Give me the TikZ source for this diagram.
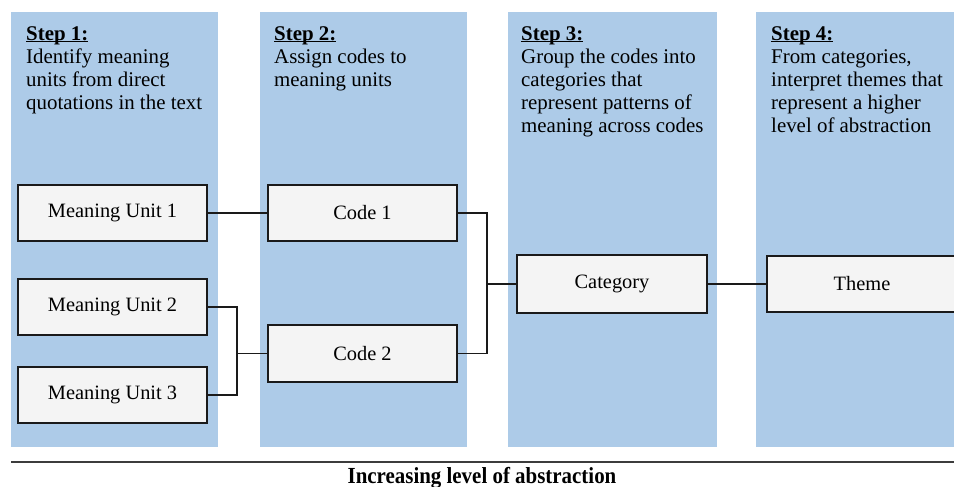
\documentclass[tikz,border=0pt]{standalone}
\usepackage{fontspec}
\setmainfont{Liberation Serif}
\usepackage{graphicx}
\definecolor{colblue}{RGB}{173,203,232}
\definecolor{boxfill}{RGB}{244,244,244}
\definecolor{boxline}{RGB}{26,26,26}
\newcommand{\stephead}[1]{\underline{\smash{\textbf{#1}}}}
\begin{document}
\begin{tikzpicture}[x=1pt,y=-1pt,
  unitbox/.style={draw=boxline, fill=boxfill, line width=1.6pt, minimum width=189pt, minimum height=56pt, inner sep=0pt, font=\fontsize{20.4}{23}\selectfont},
  conn/.style={draw=boxline, line width=1.2pt},
  steptext/.style={anchor=north west, align=left, inner sep=0pt, font=\fontsize{20.9}{23}\selectfont}]
\useasboundingbox (0,0) rectangle (954,487);
% columns
\fill[colblue] (11,12) rectangle (218,447);
\fill[colblue] (260,12) rectangle (467,447);
\fill[colblue] (508,12) rectangle (717,447);
\fill[colblue] (756,12) rectangle (960,447);
% step texts
\node[steptext] (s1) at (26,40) {\stephead{Step 1:}\\Identify meaning\\units from direct\\quotations in the text};
\node[steptext] (s2) at (274,40) {\stephead{Step 2:}\\Assign codes to\\meaning units};
\node[steptext] (s3) at (521,40) {\stephead{Step 3:}\\Group the codes into\\categories that\\represent patterns of\\meaning across codes};
\node[steptext] (s4) at (771,40) {\stephead{Step 4:}\\From categories,\\interpret themes that\\represent a higher\\level of abstraction};
% boxes
\node[unitbox] (mu1) at (112.5,213) {Meaning Unit 1};
\node[unitbox] (mu2) at (112.5,307) {Meaning Unit 2};
\node[unitbox] (mu3) at (112.5,395) {Meaning Unit 3};
\node[unitbox] (c1) at (362.5,213) {Code 1};
\node[unitbox, minimum height=57pt] (c2) at (362.5,353.5) {Code 2};
\node[unitbox, minimum width=190pt, minimum height=58pt] (cat) at (612,284) {Category};
\node[unitbox, minimum height=56pt, minimum width=190pt] (th) at (862,284) {Theme};
% connectors
\coordinate (j1) at (237,353.5);
\coordinate (j2) at (487,284);
\draw[conn] (mu1.east) -- (c1.west);
\draw[conn] (mu2.east) -| (j1) |- (mu3.east);
\draw[conn] (j1) -- (c2.west);
\draw[conn] (c1.east) -| (j2) |- (c2.east);
\draw[conn] (j2) -- (cat.west);
\draw[conn] (cat.east) -- (th.west);
% bottom rule and label
\coordinate (rl) at (11,462);
\coordinate (rr) at (960,462);
\draw[draw=boxline!85, line width=1.5pt] (rl) -- (rr);
\node[anchor=base, inner sep=0pt, font=\fontsize{23}{26}\selectfont\bfseries] (lab) at (482,483) {\scalebox{0.91}[1]{Increasing level of abstraction}};
\end{tikzpicture}
\end{document}
